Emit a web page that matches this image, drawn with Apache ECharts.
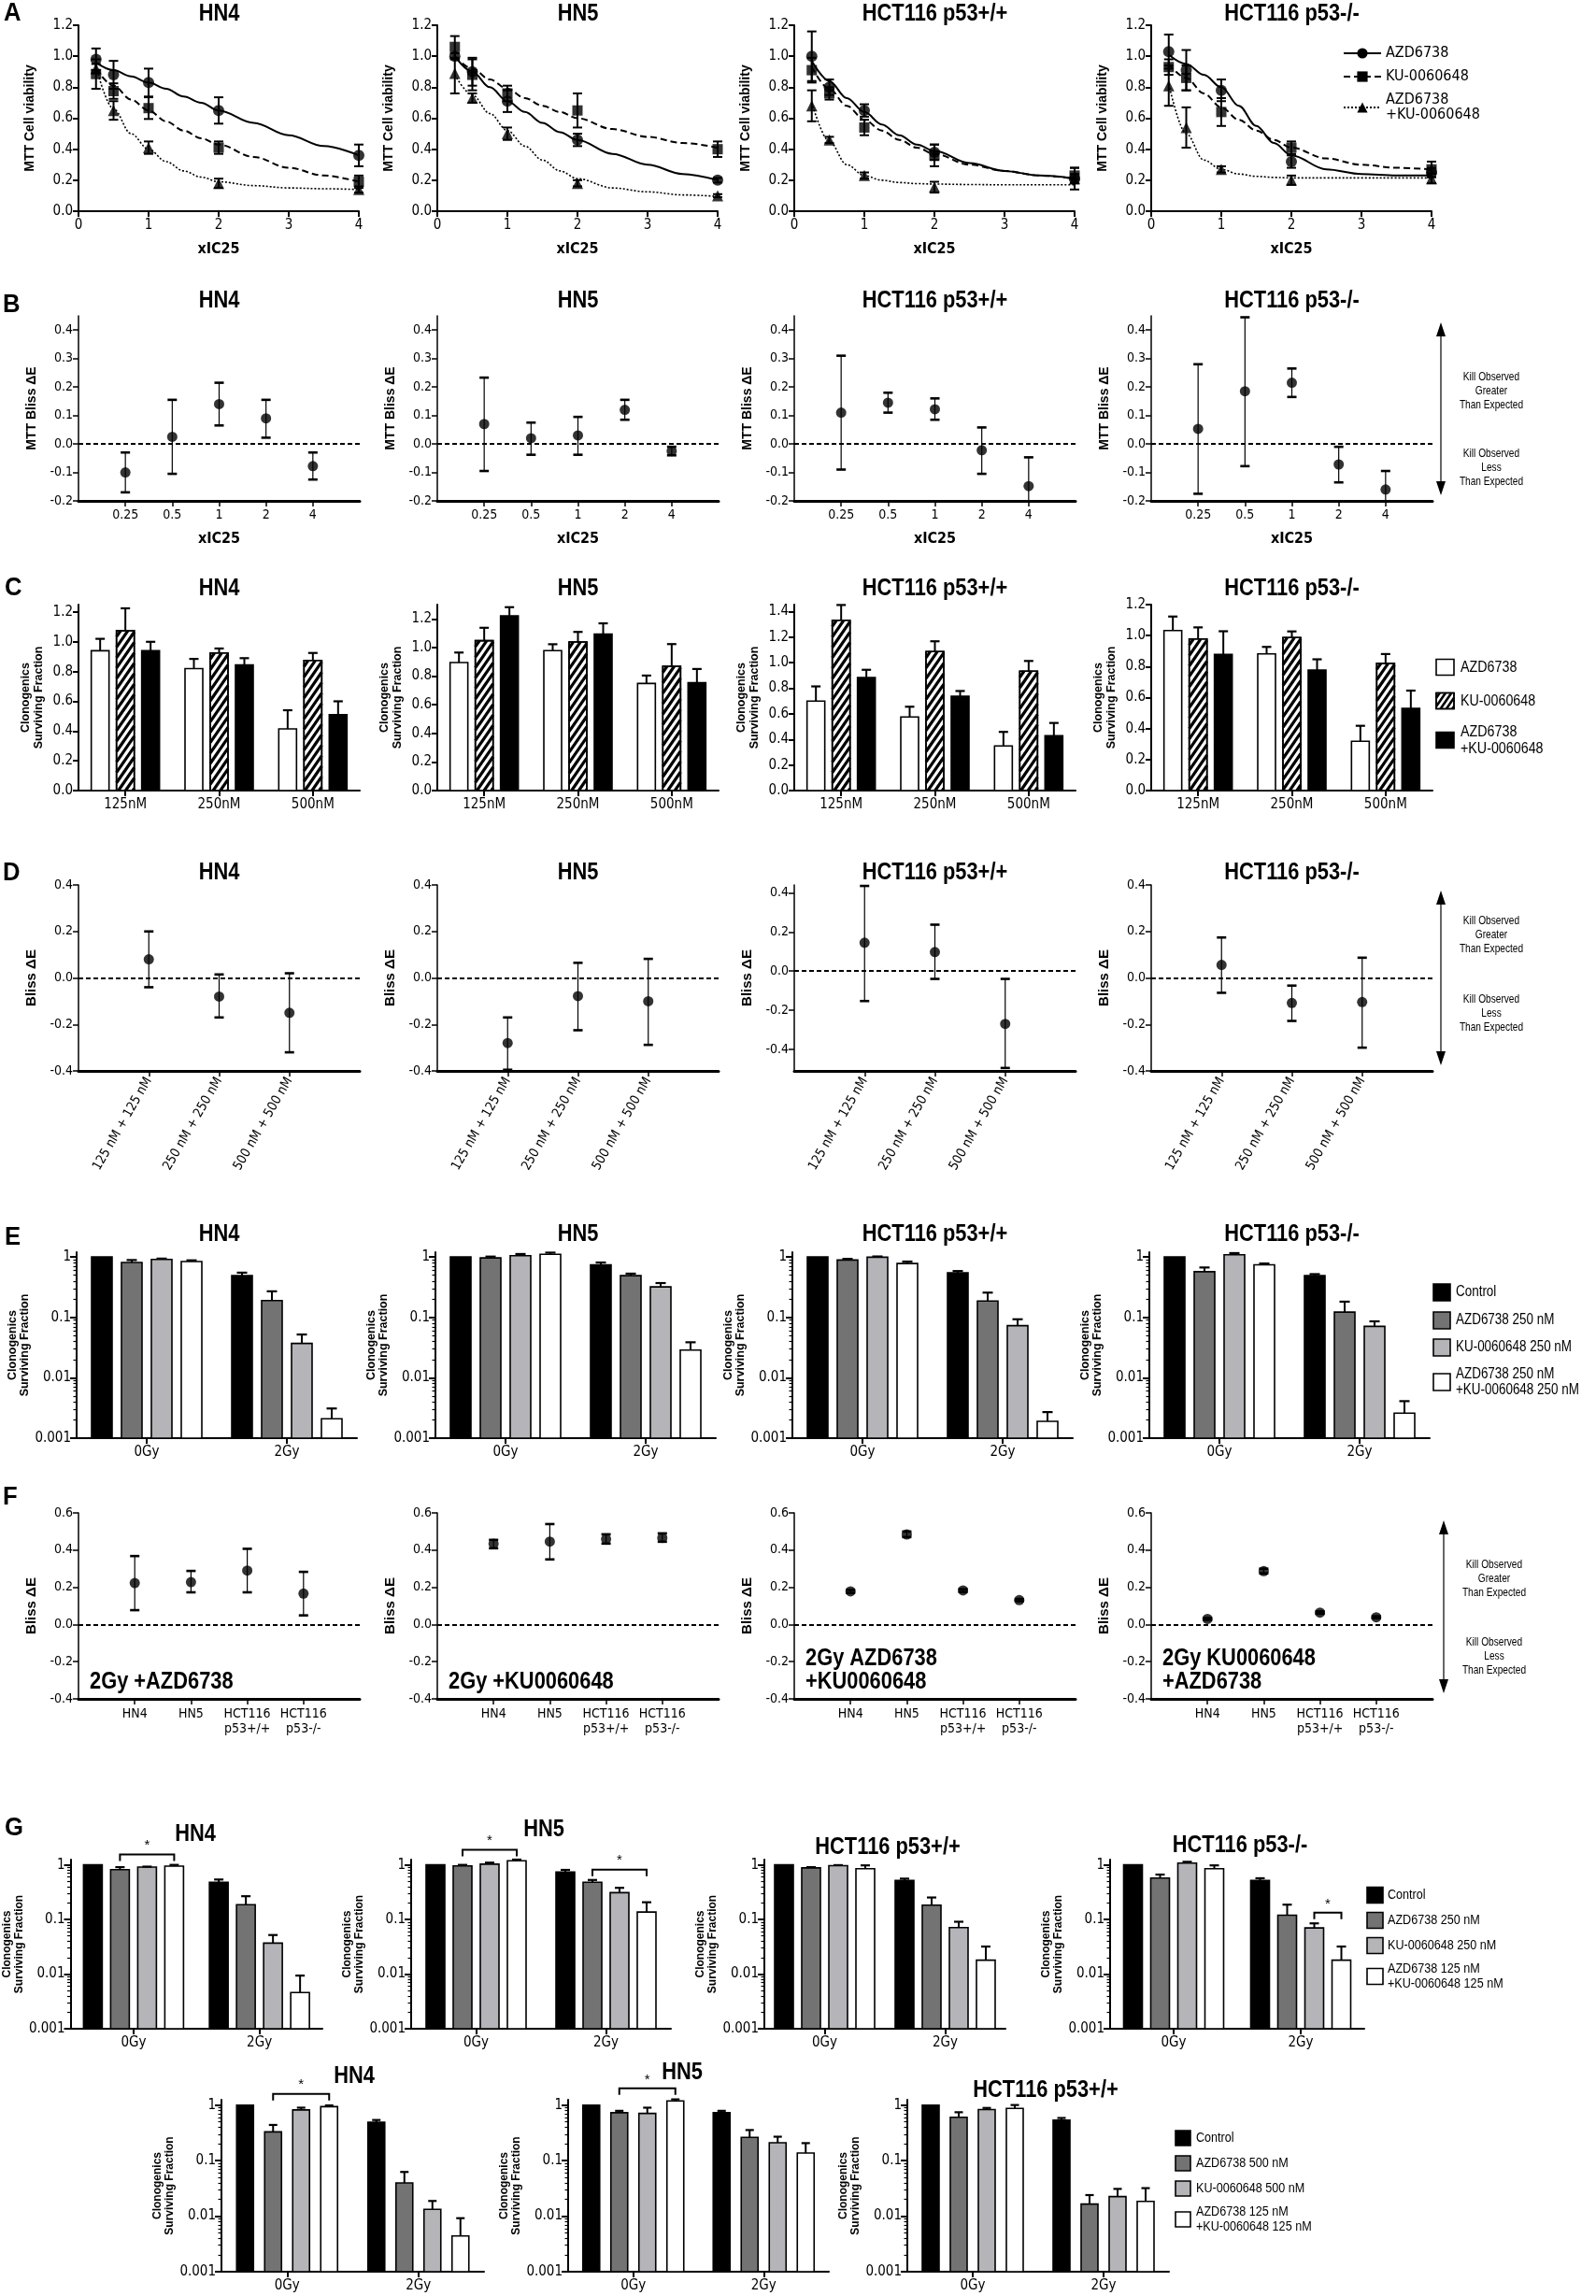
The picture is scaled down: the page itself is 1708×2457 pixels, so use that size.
<!DOCTYPE html>
<html><head><meta charset="utf-8"><title>Figure</title>
<script src="https://cdn.jsdelivr.net/npm/echarts@6.0.0/dist/echarts.min.js"></script>
<style>html,body{margin:0;padding:0;background:#fff;}#chart{width:1708px;height:2457px;}</style>
</head><body><div id="chart"></div>
<script>
const NARROW = "'Liberation Sans Narrow','Arial Narrow','DejaVu Sans Condensed',sans-serif";
const ARIAL = "'Liberation Sans',Arial,'DejaVu Sans',sans-serif";

// ================= DATA =================
const cellLines = ['HN4','HN5','HCT116 p53+/+','HCT116 p53-/-'];
const drugNames = ['AZD6738','KU-0060648','AZD6738\n+KU-0060648'];

// ---- A: MTT viability ----
const doseA = [0.25,0.5,1,2,4];
const xTicksA = [0,1,2,3,4];
const yTicksA = [0,0.2,0.4,0.6,0.8,1.0,1.2];
const mttAZD = [[0.98,0.88,0.83,0.65,0.36],[1.00,0.90,0.71,0.46,0.20],[1.00,0.80,0.65,0.38,0.21],[1.03,0.91,0.78,0.32,0.25]];
const mttAZDErr = [[0.07,0.09,0.09,0.085,0.07],[0.02,0.09,0.07,0.04,0.015],[0.16,0.05,0.04,0.05,0.07],[0.11,0.13,0.07,0.04,0.03]];
const mttKU = [[0.885,0.775,0.665,0.41,0.19],[1.06,0.88,0.76,0.65,0.40],[0.91,0.76,0.54,0.36,0.23],[0.93,0.86,0.64,0.41,0.27]];
const mttKUErr = [[0.095,0.05,0.07,0.04,0.04],[0.07,0.10,0.05,0.11,0.05],[0.08,0.04,0.05,0.07,0.05],[0.05,0.08,0.09,0.04,0.05]];
const mttCombo = [[0.92,0.65,0.41,0.18,0.14],[0.89,0.73,0.50,0.18,0.10],[0.68,0.46,0.23,0.155,0.21],[0.81,0.54,0.27,0.20,0.21]];
const mttComboErr = [[0.03,0.06,0.04,0.03,0.02],[0.13,0.03,0.04,0.02,0.01],[0.10,0.02,0.02,0.035,0.03],[0.13,0.13,0.02,0.03,0.03]];
const fitX = [0.25,0.5,0.75,1,1.25,1.5,1.75,2,2.5,3,3.5,4];
const fitAZD = [
 [0.96,0.91,0.87,0.83,0.79,0.74,0.70,0.65,0.57,0.49,0.42,0.36],
 [1.00,0.90,0.80,0.71,0.64,0.57,0.51,0.46,0.37,0.30,0.24,0.20],
 [0.97,0.84,0.73,0.64,0.56,0.49,0.43,0.39,0.31,0.26,0.23,0.21],
 [1.01,0.95,0.88,0.80,0.68,0.55,0.44,0.36,0.27,0.24,0.23,0.23]];
const fitKU = [
 [0.92,0.81,0.72,0.65,0.58,0.52,0.47,0.43,0.35,0.28,0.23,0.19],
 [1.00,0.92,0.85,0.79,0.73,0.68,0.64,0.60,0.53,0.48,0.44,0.41],
 [0.93,0.79,0.68,0.59,0.52,0.46,0.41,0.37,0.30,0.26,0.23,0.21],
 [0.95,0.86,0.76,0.67,0.59,0.52,0.46,0.41,0.34,0.30,0.28,0.27]];
const fitCombo = [
 [0.93,0.66,0.50,0.40,0.32,0.26,0.22,0.19,0.165,0.15,0.145,0.14],
 [0.88,0.75,0.63,0.52,0.42,0.33,0.26,0.21,0.15,0.125,0.105,0.095],
 [0.70,0.45,0.30,0.23,0.20,0.185,0.178,0.175,0.172,0.17,0.17,0.17],
 [0.82,0.50,0.33,0.27,0.24,0.225,0.218,0.215,0.215,0.215,0.215,0.215]];

// ---- B: MTT Bliss dE ----
const doseLabelsB = ['0.25','0.5','1','2','4'];
const yTicksB = [-0.2,-0.1,0,0.1,0.2,0.3,0.4];
const blissMTT = [[-0.10,0.025,0.14,0.09,-0.078],[0.07,0.02,0.03,0.12,-0.025],[0.11,0.145,0.122,-0.022,-0.148],[0.053,0.185,0.215,-0.072,-0.16]];
const blissMTTLow = [[-0.17,-0.105,0.065,0.022,-0.125],[-0.095,-0.038,-0.038,0.085,-0.04],[-0.09,0.11,0.085,-0.105,-0.25],[-0.175,-0.078,0.165,-0.135,-0.23]];
const blissMTTHigh = [[-0.03,0.155,0.215,0.155,-0.03],[0.233,0.075,0.095,0.155,-0.01],[0.31,0.18,0.16,0.058,-0.047],[0.28,0.445,0.265,-0.01,-0.095]];

// ---- C: clonogenic surviving fraction ----
const concLabels = ['125nM','250nM','500nM'];
const yTicksC = [[0,0.2,0.4,0.6,0.8,1.0,1.2],[0,0.2,0.4,0.6,0.8,1.0,1.2],[0,0.2,0.4,0.6,0.8,1.0,1.2,1.4],[0,0.2,0.4,0.6,0.8,1.0,1.2]];
const yMaxC = [1.25,1.3,1.455,1.2];
const cfAZD = [[0.94,0.82,0.415],[0.895,0.978,0.749],[0.70,0.576,0.349],[1.033,0.882,0.318]];
const cfAZDErr = [[0.08,0.065,0.125],[0.07,0.045,0.055],[0.115,0.08,0.11],[0.09,0.045,0.10]];
const cfKU = [[1.075,0.925,0.875],[1.048,1.039,0.869],[1.332,1.088,0.934],[0.978,0.987,0.821]];
const cfKUErr = [[0.15,0.03,0.05],[0.09,0.07,0.155],[0.12,0.08,0.08],[0.075,0.04,0.06]];
const cfCombo = [[0.94,0.845,0.51],[1.222,1.094,0.755],[0.885,0.739,0.429],[0.878,0.777,0.53]];
const cfComboErr = [[0.06,0.045,0.09],[0.06,0.075,0.095],[0.06,0.04,0.10],[0.15,0.07,0.115]];

// ---- D: clonogenic Bliss dE ----
const comboLabels = ['125 nM + 125 nM','250 nM + 250 nM','500 nM + 500 nM'];
const yTicksD = [-0.4,-0.2,0,0.2,0.4];
const yRangeD = [[-0.4,0.4],[-0.4,0.4],[-0.51,0.44],[-0.4,0.4]];
const blissCF = [[0.08,-0.08,-0.15],[-0.28,-0.078,-0.10],[0.145,0.097,-0.27],[0.056,-0.108,-0.104]];
const blissCFLow = [[-0.04,-0.17,-0.32],[-0.395,-0.225,-0.288],[-0.153,-0.04,-0.495],[-0.064,-0.185,-0.30]];
const blissCFHigh = [[0.20,0.015,0.02],[-0.17,0.065,0.082],[0.435,0.237,-0.04],[0.174,-0.033,0.087]];

// ---- E: radiation + drugs (250 nM) ----
const doseGy = ['0Gy','2Gy'];
const logTicks = [0.001,0.01,0.1,1];
const logMinorTicks = [0.002,0.003,0.004,0.005,0.006,0.007,0.008,0.009,0.02,0.03,0.04,0.05,0.06,0.07,0.08,0.09,0.2,0.3,0.4,0.5,0.6,0.7,0.8,0.9];
const eCtrl = [[1,0.49],[1,0.74],[1,0.545],[1,0.49]];
const eCtrlErr = [[0,0.06],[0,0.07],[0,0.04],[0,0.03]];
const eAZD = [[0.81,0.19],[0.965,0.49],[0.89,0.187],[0.57,0.122]];
const eAZDErr = [[0.08,0.08],[0.05,0.04],[0.04,0.07],[0.10,0.06]];
const eKU = [[0.91,0.037],[1.05,0.32],[0.99,0.073],[1.09,0.071]];
const eKUErr = [[0.03,0.015],[0.07,0.05],[0.03,0.02],[0.07,0.015]];
const eCombo = [[0.84,0.0021],[1.11,0.0287],[0.78,0.0019],[0.74,0.0026]];
const eComboErr = [[0.04,0.001],[0.07,0.01],[0.06,0.0008],[0.04,0.0015]];
const legendE = ['Control','AZD6738 250 nM','KU-0060648 250 nM','AZD6738 250 nM\n+KU-0060648 250 nM'];

// ---- F: radiation Bliss dE ----
const lineLabelsF = ['HN4','HN5','HCT116\np53+/+','HCT116\np53-/-'];
const yTicksF = [-0.4,-0.2,0,0.2,0.4,0.6];
const panelNotesF = ['2Gy +AZD6738','2Gy +KU0060648','2Gy AZD6738\n+KU0060648','2Gy KU0060648\n+AZD6738'];
const blissRT = [[0.223,0.228,0.29,0.166],[0.434,0.446,0.459,0.466],[0.178,0.484,0.183,0.131],[0.03,0.287,0.064,0.039]];
const blissRTLow = [[0.077,0.173,0.173,0.049],[0.41,0.35,0.435,0.445],[0.17,0.47,0.175,0.125],[0.025,0.275,0.058,0.034]];
const blissRTHigh = [[0.368,0.288,0.407,0.283],[0.455,0.54,0.485,0.49],[0.186,0.50,0.19,0.137],[0.035,0.30,0.07,0.044]];

// ---- G (top): low-dose combination ----
const gCtrl = [[1,0.48],[1,0.74],[1,0.52],[1,0.52]];
const gCtrlErr = [[0,0.06],[0,0.07],[0,0.04],[0,0.05]];
const gAZD = [[0.82,0.187],[0.96,0.48],[0.88,0.183],[0.575,0.12]];
const gAZDErr = [[0.09,0.08],[0.04,0.05],[0.03,0.07],[0.09,0.067]];
const gKU = [[0.91,0.037],[1.03,0.31],[0.97,0.071],[1.08,0.07]];
const gKUErr = [[0.02,0.015],[0.07,0.07],[0.02,0.02],[0.06,0.015]];
const gCombo = [[0.95,0.0046],[1.19,0.137],[0.85,0.018],[0.85,0.018]];
const gComboErr = [[0.05,0.0048],[0.06,0.07],[0.13,0.014],[0.13,0.014]];
const sigG1 = [[0,0,1,3,1.55],[1,0,1,3,1.89],[1,1,1,3,0.82],[3,1,2,3,0.133]]; // panel, dose, from, to, level
const legendG1 = ['Control','AZD6738 250 nM','KU-0060648 250 nM','AZD6738 125 nM\n+KU-0060648 125 nM'];

// ---- G (bottom) ----
const cellLinesG2 = ['HN4','HN5','HCT116 p53+/+'];
const g2Ctrl = [[1,0.49],[1,0.73],[1,0.537]];
const g2CtrlErr = [[0,0.05],[0,0.06],[0,0.05]];
const g2AZD = [[0.33,0.0396],[0.73,0.263],[0.605,0.0165]];
const g2AZDErr = [[0.11,0.023],[0.06,0.093],[0.14,0.0075]];
const g2KU = [[0.82,0.0133],[0.71,0.21],[0.83,0.0225]];
const g2KUErr = [[0.08,0.0055],[0.19,0.06],[0.06,0.0085]];
const g2Combo = [[0.94,0.0044],[1.19,0.137],[0.875,0.0185]];
const g2ComboErr = [[0.05,0.0048],[0.08,0.07],[0.13,0.0135]];
const sigG2 = [[0,0,1,3,1.59],[1,0,1,3,2.0]];
const legendG2 = ['Control','AZD6738 500 nM','KU-0060648 500 nM','AZD6738 125 nM\n+KU-0060648 125 nM'];

const arrowTexts = ['Kill Observed\nGreater\nThan Expected','Kill Observed\nLess\nThan Expected'];
const panelLetters = ['A','B','C','D','E','F','G'];

// ================= BUILD =================
const option = {animation:false, backgroundColor:'#ffffff', grid:[], xAxis:[], yAxis:[], series:[], legend:[], graphic:{elements:[]}};
const GE = option.graphic.elements;
const SQ = 0.84; // horizontal squeeze to emulate a narrow face

function addGrid(l,t,w,h){option.grid.push({left:l,top:t,width:w,height:h}); return option.grid.length-1;}
function addX(ax){option.xAxis.push(ax); return option.xAxis.length-1;}
function addY(ax){option.yAxis.push(ax); return option.yAxis.length-1;}
function tickStyle(len,w){return {show:true, inside:false, length:len, lineStyle:{color:'#000', width:w}};}
function lbl(fs){return {color:'#000', fontFamily:NARROW, fontSize:fs};}
function gText(text, x, y, fs, opts, sx){
  GE.push({type:'text', x, y, scaleX:(sx===undefined?SQ:sx), silent:true,
    style:Object.assign({text, fontFamily:ARIAL, fontSize:fs, fill:'#000', align:'left', verticalAlign:'middle'}, opts||{})});
}
function addTitle(text, cx, cy){ gText(text, cx, cy, 26, {fontWeight:'bold', align:'center'}); }
function yVal(g, min, max, ticks, name, nameGap, nameFs, fs, lw){
  return addY({gridIndex:g, type:'value', min, max, splitLine:{show:false},
    axisLine:{show:true, lineStyle:{color:'#000', width:lw||2}},
    axisTick:Object.assign(tickStyle(6,lw||2), {customValues:ticks}),
    axisLabel:Object.assign(lbl(fs), {customValues:ticks, margin:6, formatter:v=>(+v).toFixed(1)}),
    name, nameLocation:'middle', nameGap, nameRotate:90,
    nameTextStyle:{fontFamily:ARIAL, fontWeight:'bold', fontSize:nameFs, color:'#000', lineHeight:nameFs+1}});
}
function yLog(g, max, name, nameGap, nameFs){
  const yi = addY({gridIndex:g, type:'log', logBase:10, min:0.001, max, position:'left', splitLine:{show:false},
    axisLine:{show:true, lineStyle:{color:'#000', width:2}},
    axisTick:Object.assign(tickStyle(7,2), {customValues:logTicks}),
    axisLabel:Object.assign(lbl(15), {customValues:logTicks, margin:6, formatter:v=>String(+v)}),
    name, nameLocation:'middle', nameGap, nameRotate:90,
    nameTextStyle:{fontFamily:ARIAL, fontWeight:'bold', fontSize:nameFs, color:'#000', lineHeight:nameFs+1}});
  addY({gridIndex:g, type:'log', logBase:10, min:0.001, max, position:'left', splitLine:{show:false},
    axisLine:{show:false}, axisLabel:{show:false},
    axisTick:Object.assign(tickStyle(3.5,1.2), {customValues:logMinorTicks})});
  return yi;
}
function xPadded(g, labels, fs, extra){
  return addX(Object.assign({gridIndex:g, type:'category', data:[''].concat(labels,['']), boundaryGap:false,
    splitLine:{show:false},
    axisLine:{show:true, onZero:false, lineStyle:{color:'#000', width:3}},
    axisTick:{show:true, length:6, lineStyle:{color:'#000', width:1.5}, interval:(i,v)=>v!==''},
    axisLabel:Object.assign(lbl(fs), {interval:0})}, extra||{}));
}
function xBand(g, labels, fs){
  return addX({gridIndex:g, type:'category', data:labels, boundaryGap:true, splitLine:{show:false},
    axisLine:{show:true, onZero:false, lineStyle:{color:'#000', width:2}},
    axisTick:{show:true, alignWithLabel:true, length:6, lineStyle:{color:'#000', width:2}},
    axisLabel:Object.assign(lbl(fs), {interval:0, margin:8})});
}
function ln(x1,y1,x2,y2,lw){return {type:'line', shape:{x1,y1,x2,y2}, style:{stroke:'#000', lineWidth:lw}};}

function errRender(cap, stemW, capW, yMin){
  return function(params, api){
    const x = api.value(0);
    const lo0 = api.value(1), hi = api.value(2);
    const lo = Math.max(lo0, yMin);
    const a = api.coord([x, lo]), b = api.coord([x, hi]);
    const cx = a[0];
    const ch = [ln(cx,a[1],cx,b[1],stemW), ln(cx-cap/2,b[1],cx+cap/2,b[1],capW)];
    if (lo0 >= yMin) ch.push(ln(cx-cap/2,a[1],cx+cap/2,a[1],capW));
    return {type:'group', children:ch};
  };
}
function hatch(x, y, w, h, sp, lw){
  const k = 1.45, out = [];
  const cMin = y + k*x, cMax = y + h + k*(x + w);
  for (let c = cMin + sp*0.6; c < cMax; c += sp*k*0.7){
    const x1 = Math.max(x, (c - y - h)/k), x2 = Math.min(x + w, (c - y)/k);
    if (x2 > x1 + 0.5) out.push({type:'line', shape:{x1, y1:c - k*x1, x2, y2:c - k*x2}, style:{stroke:'#000', lineWidth:lw}});
  }
  return out;
}
function barRender(geom, styles, vMin){
  return function(params, api){
    const cat = api.value(0), s = api.value(1), v = api.value(2), e = api.value(3);
    const c = api.coord([cat, v]), b = api.coord([cat, vMin]);
    const off = (s - (geom.n-1)/2) * geom.step;
    const cx = c[0] + off, x = cx - geom.bw/2, top = c[1], bot = b[1];
    const st = styles[s];
    const ch = [{type:'rect', shape:{x, y:top, width:geom.bw, height:bot-top}, style:{fill:st.fill, stroke:'#000', lineWidth:1.6}}];
    if (st.hatch){
      hatch(x, top, geom.bw, bot-top, 11, 3.2).forEach(o=>ch.push(o));
      ch.push({type:'rect', shape:{x, y:top, width:geom.bw, height:bot-top}, style:{fill:null, stroke:'#000', lineWidth:1.6}});
    }
    if (e > 0){
      const t = api.coord([cat, v + e]);
      ch.push(ln(cx, top, cx, t[1], 2));
      ch.push(ln(cx-geom.cap/2, t[1], cx+geom.cap/2, t[1], 2.2));
    }
    return {type:'group', children:ch};
  };
}
function bracketRender(geom){
  return function(params, api){
    const cat = api.value(0), s1 = api.value(1), s2 = api.value(2), yv = api.value(3);
    const p = api.coord([cat, yv]);
    const x1 = p[0] + (s1-(geom.n-1)/2)*geom.step, x2 = p[0] + (s2-(geom.n-1)/2)*geom.step, y = p[1];
    return {type:'group', children:[
      {type:'polyline', shape:{points:[[x1,y+7],[x1,y],[x2,y],[x2,y+7]]}, style:{stroke:'#000', lineWidth:2, fill:null}},
      {type:'text', x:(x1+x2)/2, y:y-2, style:{text:'*', fontFamily:ARIAL, fontSize:15, fill:'#000', align:'center', verticalAlign:'bottom'}}
    ]};
  };
}
function arrowAnno(x, yTop, yBot, yT1, yT2){
  GE.push({type:'line', silent:true, shape:{x1:x, y1:yTop+10, x2:x, y2:yBot-10}, style:{stroke:'#000', lineWidth:1.2}});
  GE.push({type:'polygon', silent:true, shape:{points:[[x,yTop],[x-5,yTop+15],[x+5,yTop+15]]}, style:{fill:'#000'}});
  GE.push({type:'polygon', silent:true, shape:{points:[[x,yBot],[x-5,yBot-15],[x+5,yBot-15]]}, style:{fill:'#000'}});
  gText(arrowTexts[0], x+54, yT1, 13, {align:'center', lineHeight:15}, 0.78);
  gText(arrowTexts[1], x+54, yT2, 13, {align:'center', lineHeight:15}, 0.78);
}
function boxLegend(bx, bw, bh, ys, styles, texts, tx, fs){
  ys.forEach((y,i)=>{
    GE.push({type:'rect', silent:true, shape:{x:bx, y:y-bh/2, width:bw, height:bh}, style:{fill:styles[i].fill, stroke:'#000', lineWidth:1.6}});
    if (styles[i].hatch){
      hatch(bx, y-bh/2, bw, bh, 9, 2.6).forEach(o=>{o.silent=true; GE.push(o);});
      GE.push({type:'rect', silent:true, shape:{x:bx, y:y-bh/2, width:bw, height:bh}, style:{fill:null, stroke:'#000', lineWidth:1.6}});
    }
    gText(texts[i], tx, y, fs, {lineHeight:fs+1});
  });
}

const colX = [84,468,850,1232], colW = 301;

// ---------- Row A ----------
const symA = ['circle','rect','triangle'], symSizeA = [12,11,12];
const dashA = ['solid',[7,4],[2,2]], widthA = [2,2,1.6];
const meansA = [mttAZD, mttKU, mttCombo], errsA = [mttAZDErr, mttKUErr, mttComboErr], fitsA = [fitAZD, fitKU, fitCombo];
cellLines.forEach((cl,i)=>{
  const g = addGrid(colX[i], 27, colW-1, 199);
  const xi = addX({gridIndex:g, type:'value', min:0, max:4, interval:1, splitLine:{show:false},
    axisLine:{onZero:false, lineStyle:{color:'#000', width:2}}, axisTick:tickStyle(6,2), axisLabel:Object.assign(lbl(15),{customValues:xTicksA}),
    name:'xIC25', nameLocation:'middle', nameGap:33, nameTextStyle:{fontFamily:NARROW, fontWeight:'bold', fontSize:16, color:'#000'}});
  const yi = yVal(g, 0, 1.2, yTicksA, 'MTT Cell viability', 44, 14, 15, 2);
  addTitle(cl, colX[i]+colW/2, 15);
  for (let s=0; s<3; s++){
    option.series.push({type:'line', name:drugNames[s], xAxisIndex:xi, yAxisIndex:yi, silent:true,
      data:fitX.map((x,j)=>[x, fitsA[s][i][j]]), smooth:0.35, smoothMonotone:'x', showSymbol:false,
      symbol:symA[s], symbolSize:11, lineStyle:{color:'#000', width:widthA[s], type:dashA[s]}, itemStyle:{color:'#000'}, z:2});
    option.series.push({type:'custom', xAxisIndex:xi, yAxisIndex:yi, silent:true, renderItem:errRender(10,2,2,-1),
      encode:{x:0, y:[1,2]}, z:3,
      data:doseA.map((d,j)=>[d, meansA[s][i][j]-errsA[s][i][j], meansA[s][i][j]+errsA[s][i][j]])});
    option.series.push({type:'scatter', xAxisIndex:xi, yAxisIndex:yi, silent:true, symbol:symA[s], symbolSize:symSizeA[s],
      itemStyle:{color:'#000'}, z:4, data:doseA.map((d,j)=>[d, meansA[s][i][j]])});
  }
});
option.legend.push({orient:'vertical', left:1432, top:44, itemWidth:40, itemHeight:14, itemGap:9, selectedMode:false,
  data:drugNames, textStyle:{fontFamily:NARROW, fontSize:16, color:'#000', lineHeight:16}});

// ---------- Row B ----------
cellLines.forEach((cl,i)=>{
  const g = addGrid(colX[i], 338, colW, 198);
  const xi = xPadded(g, doseLabelsB, 14, {name:'xIC25', nameLocation:'middle', nameGap:33,
    nameTextStyle:{fontFamily:NARROW, fontWeight:'bold', fontSize:16, color:'#000'}});
  const yi = yVal(g, -0.2, 0.45, yTicksB, 'MTT Bliss ΔE', 42, 14, 14, 1.5);
  addTitle(cl, colX[i]+colW/2, 322);
  option.series.push({type:'custom', xAxisIndex:xi, yAxisIndex:yi, silent:true, renderItem:errRender(10,1.2,2.6,-0.2),
    encode:{x:0, y:[1,2]}, z:3, data:doseLabelsB.map((d,j)=>[j+1, blissMTTLow[i][j], blissMTTHigh[i][j]])});
  option.series.push({type:'scatter', xAxisIndex:xi, yAxisIndex:yi, silent:true, symbol:'circle', symbolSize:11,
    itemStyle:{color:'#000'}, z:4, data:doseLabelsB.map((d,j)=>[j+1, blissMTT[i][j]]),
    markLine:{silent:true, symbol:['none','none'], label:{show:false}, lineStyle:{color:'#000', type:[5,3], width:2}, data:[{yAxis:0}]}});
});
arrowAnno(1542, 345, 530, 418, 500);

// ---------- Row C ----------
const stylesC = [{fill:'#ffffff'},{fill:'#ffffff', hatch:true},{fill:'#000000'}];
const valsC = [cfAZD, cfKU, cfCombo], errsC = [cfAZDErr, cfKUErr, cfComboErr];
cellLines.forEach((cl,i)=>{
  const g = addGrid(colX[i], 647, colW, 199);
  const xi = xBand(g, concLabels, 15);
  const yi = yVal(g, 0, yMaxC[i], yTicksC[i], 'Clonogenics\nSurviving Fraction', 36, 12.5, 15, 2);
  addTitle(cl, colX[i]+colW/2, 630);
  const data = [];
  for (let s=0;s<3;s++) for (let c=0;c<3;c++) data.push([c, s, valsC[s][i][c], errsC[s][i][c]]);
  option.series.push({type:'custom', xAxisIndex:xi, yAxisIndex:yi, silent:true,
    renderItem:barRender({bw:19, step:27, n:3, cap:10}, stylesC, 0), encode:{x:0, y:2}, data});
});
boxLegend(1537, 19, 17, [714,750,792], stylesC, drugNames, 1563, 17);

// ---------- Row D ----------
cellLines.forEach((cl,i)=>{
  const g = addGrid(colX[i], 947, colW, 199);
  const xi = xPadded(g, comboLabels, 14, {axisLabel:Object.assign(lbl(14), {interval:0, rotate:60, margin:8})});
  const yi = yVal(g, yRangeD[i][0], yRangeD[i][1], yTicksD, 'Bliss ΔE', 42, 15, 14, 1.5);
  addTitle(cl, colX[i]+colW/2, 934);
  option.series.push({type:'custom', xAxisIndex:xi, yAxisIndex:yi, silent:true, renderItem:errRender(10,1.2,2.6,yRangeD[i][0]),
    encode:{x:0, y:[1,2]}, z:3, data:comboLabels.map((d,j)=>[j+1, blissCFLow[i][j], blissCFHigh[i][j]])});
  option.series.push({type:'scatter', xAxisIndex:xi, yAxisIndex:yi, silent:true, symbol:'circle', symbolSize:11,
    itemStyle:{color:'#000'}, z:4, data:comboLabels.map((d,j)=>[j+1, blissCF[i][j]]),
    markLine:{silent:true, symbol:['none','none'], label:{show:false}, lineStyle:{color:'#000', type:[5,3], width:2}, data:[{yAxis:0}]}});
});
arrowAnno(1542, 953, 1140, 1000, 1084);

// ---------- Row E ----------
const stylesE = [{fill:'#000000'},{fill:'#737373'},{fill:'#b4b4b9'},{fill:'#ffffff'}];
const valsE = [eCtrl, eAZD, eKU, eCombo], errsE = [eCtrlErr, eAZDErr, eKUErr, eComboErr];
cellLines.forEach((cl,i)=>{
  const g = addGrid(colX[i]-2, 1340, 300, 199);
  const xi = xBand(g, doseGy, 15);
  const yi = yLog(g, 1.2, 'Clonogenics\nSurviving Fraction', 38, 12.5);
  addTitle(cl, colX[i]+colW/2, 1321);
  const data = [];
  for (let s=0;s<4;s++) for (let c=0;c<2;c++) data.push([c, s, valsE[s][i][c], errsE[s][i][c]]);
  option.series.push({type:'custom', xAxisIndex:xi, yAxisIndex:yi, silent:true,
    renderItem:barRender({bw:22, step:32, n:4, cap:11}, stylesE, 0.001), encode:{x:0, y:2}, data});
});
boxLegend(1534, 18, 18, [1383,1413,1442,1479], stylesE, legendE, 1558, 16);

// ---------- Row F ----------
cellLines.forEach((cl,i)=>{
  const g = addGrid(colX[i], 1619, colW, 199);
  const xi = xPadded(g, lineLabelsF, 14, {axisLabel:Object.assign(lbl(14), {interval:0, lineHeight:16, margin:8})});
  const yi = yVal(g, -0.4, 0.6, yTicksF, 'Bliss ΔE', 42, 15, 14, 1.5);
  option.series.push({type:'custom', xAxisIndex:xi, yAxisIndex:yi, silent:true, renderItem:errRender(10,1.2,2.6,-0.4),
    encode:{x:0, y:[1,2]}, z:3, data:lineLabelsF.map((d,j)=>[j+1, blissRTLow[i][j], blissRTHigh[i][j]])});
  option.series.push({type:'scatter', xAxisIndex:xi, yAxisIndex:yi, silent:true, symbol:'circle', symbolSize:11,
    itemStyle:{color:'#000'}, z:4, data:lineLabelsF.map((d,j)=>[j+1, blissRT[i][j]]),
    markLine:{silent:true, symbol:['none','none'], label:{show:false}, lineStyle:{color:'#000', type:[5,3], width:2}, data:[{yAxis:0}]}});
  const two = panelNotesF[i].indexOf('\n') >= 0;
  gText(panelNotesF[i], colX[i]+12, two ? 1787 : 1800, 26, {fontWeight:'bold', lineHeight:25});
});
arrowAnno(1545, 1627, 1812, 1689, 1772);

// ---------- Row G top ----------
const gLeft = [65,440,818,1188], gWidth = [280,278,258,272];
const gTitleX = [209,582,950,1327], gTitleY = [1963,1958,1977,1975];
const valsG = [gCtrl, gAZD, gKU, gCombo], errsG = [gCtrlErr, gAZDErr, gKUErr, gComboErr];
const geomG1 = {bw:20, step:29, n:4, cap:10};
cellLines.forEach((cl,i)=>{
  const g = addGrid(gLeft[i], 1990, gWidth[i], 181);
  const xi = xBand(g, doseGy, 15);
  const yi = yLog(g, 1.25, 'Clonogenics\nSurviving Fraction', 33, 12);
  addTitle(cl, gTitleX[i], gTitleY[i]);
  const data = [];
  for (let s=0;s<4;s++) for (let c=0;c<2;c++) data.push([c, s, valsG[s][i][c], errsG[s][i][c]]);
  option.series.push({type:'custom', xAxisIndex:xi, yAxisIndex:yi, silent:true,
    renderItem:barRender(geomG1, stylesE, 0.001), encode:{x:0, y:2}, data});
  const sig = sigG1.filter(r=>r[0]===i).map(r=>[r[1], r[2], r[3], r[4]]);
  if (sig.length) option.series.push({type:'custom', xAxisIndex:xi, yAxisIndex:yi, silent:true, clip:false,
    renderItem:bracketRender(geomG1), encode:{x:0, y:3}, data:sig});
});
boxLegend(1463, 17, 17, [2028,2055,2082,2115], stylesE, legendG1, 1485, 15);

// ---------- Row G bottom ----------
const g2Left = [237,608,971], g2Width = [281,279,280];
const g2TitleX = [379,730,1119], g2TitleY = [2222,2218,2237];
const valsG2 = [g2Ctrl, g2AZD, g2KU, g2Combo], errsG2 = [g2CtrlErr, g2AZDErr, g2KUErr, g2ComboErr];
const geomG2 = {bw:18, step:30, n:4, cap:9};
cellLinesG2.forEach((cl,i)=>{
  const g = addGrid(g2Left[i], 2247, g2Width[i], 184);
  const xi = xBand(g, doseGy, 15);
  const yi = yLog(g, 1.25, 'Clonogenics\nSurviving Fraction', 33, 12);
  addTitle(cl, g2TitleX[i], g2TitleY[i]);
  const data = [];
  for (let s=0;s<4;s++) for (let c=0;c<2;c++) data.push([c, s, valsG2[s][i][c], errsG2[s][i][c]]);
  option.series.push({type:'custom', xAxisIndex:xi, yAxisIndex:yi, silent:true,
    renderItem:barRender(geomG2, stylesE, 0.001), encode:{x:0, y:2}, data});
  const sig = sigG2.filter(r=>r[0]===i).map(r=>[r[1], r[2], r[3], r[4]]);
  if (sig.length) option.series.push({type:'custom', xAxisIndex:xi, yAxisIndex:yi, silent:true, clip:false,
    renderItem:bracketRender(geomG2), encode:{x:0, y:3}, data:sig});
});
boxLegend(1258, 16, 16, [2288,2315,2342,2375], stylesE, legendG2, 1280, 15);

// ---------- panel letters ----------
const letterPos = [[4,15],[3,327],[5,630],[3,935],[5,1325],[3,1603],[5,1957]];
panelLetters.forEach((L,i)=>gText(L, letterPos[i][0], letterPos[i][1], 27, {fontWeight:'bold'}, 0.95));

const chart = echarts.init(document.getElementById('chart'), null, {renderer:'canvas'});
chart.setOption(option);
</script></body></html>
